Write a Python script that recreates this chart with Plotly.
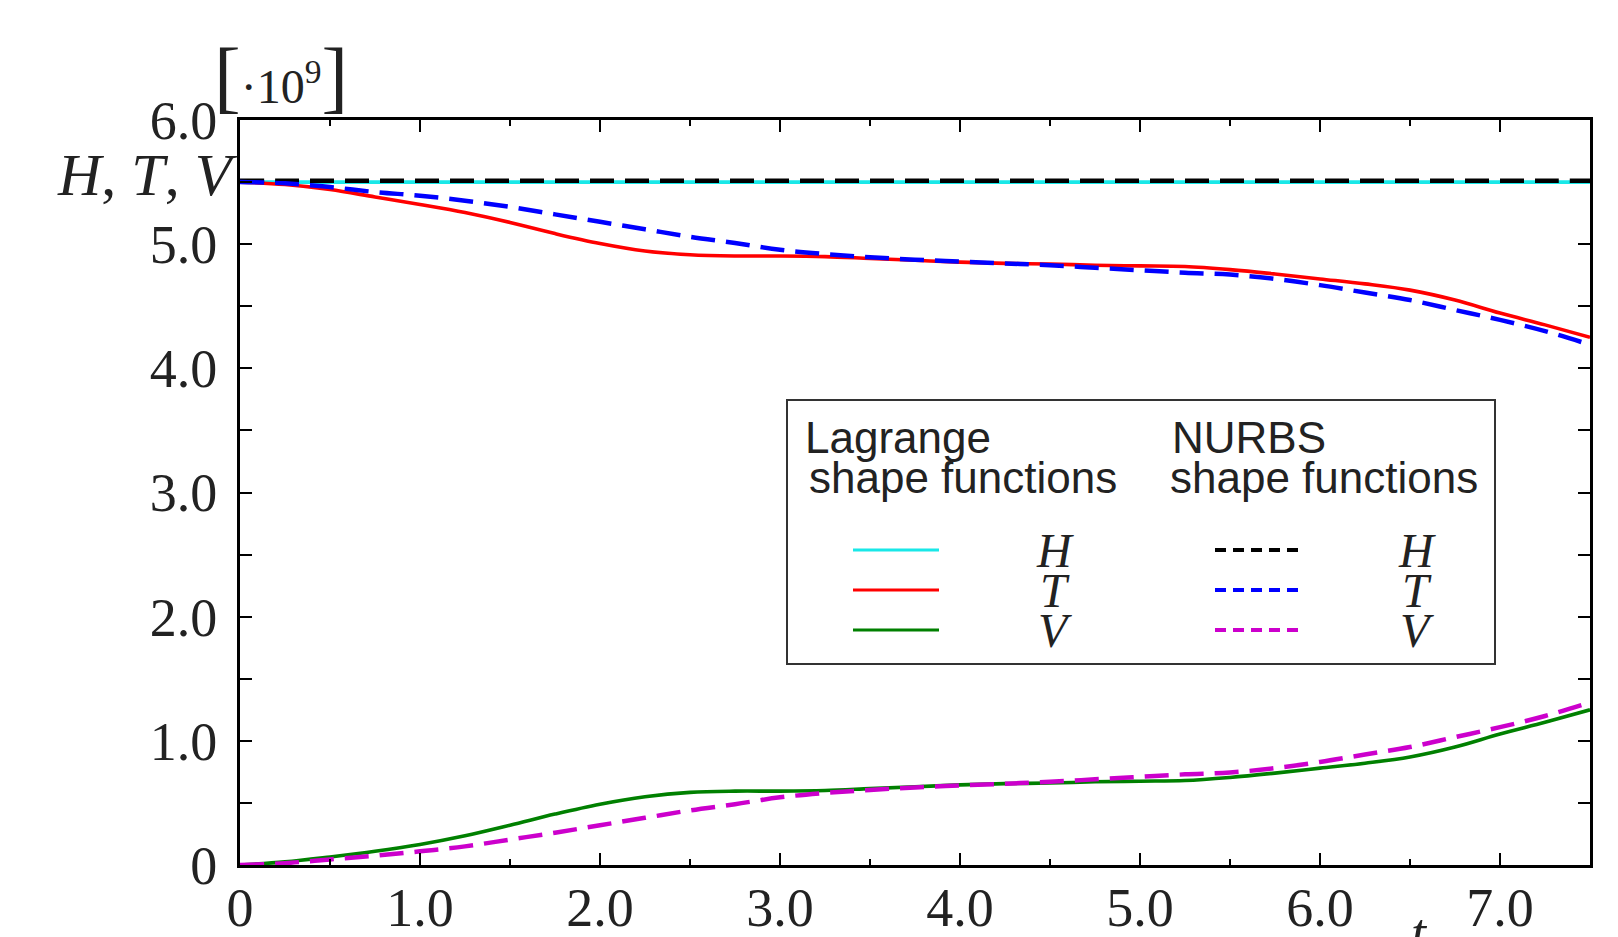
import plotly.graph_objects as go

# ---------------- data ----------------
t = [0.0, 0.25, 0.5, 0.75, 1.0, 1.25, 1.5, 1.75, 2.0, 2.25, 2.5, 2.75, 3.0, 3.25,
     3.5, 3.75, 4.0, 4.25, 4.5, 4.75, 5.0, 5.25, 5.5, 5.75, 6.0, 6.25, 6.5, 6.75,
     7.0, 7.25, 7.5]

H_lagrange = [5.50] * len(t)
T_lagrange = [5.50, 5.48, 5.44, 5.38, 5.32, 5.255, 5.175, 5.085, 5.005, 4.945,
              4.915, 4.905, 4.905, 4.90, 4.885, 4.87, 4.855, 4.845, 4.84, 4.83,
              4.825, 4.82, 4.795, 4.76, 4.72, 4.68, 4.63, 4.55, 4.445, 4.35, 4.25]
V_lagrange = [0.0, 0.025, 0.065, 0.11, 0.165, 0.235, 0.32, 0.41, 0.49, 0.55,
              0.585, 0.595, 0.595, 0.60, 0.615, 0.63, 0.645, 0.655, 0.66, 0.67,
              0.675, 0.68, 0.705, 0.74, 0.78, 0.82, 0.87, 0.95, 1.055, 1.15, 1.25]

H_nurbs = [5.51] * len(t)
T_nurbs = [5.50, 5.49, 5.46, 5.42, 5.39, 5.35, 5.30, 5.24, 5.18, 5.12, 5.06,
           5.01, 4.955, 4.92, 4.895, 4.875, 4.86, 4.845, 4.83, 4.81, 4.79,
           4.77, 4.755, 4.72, 4.67, 4.61, 4.55, 4.47, 4.39, 4.30, 4.19]
V_nurbs = [0.0, 0.015, 0.045, 0.075, 0.11, 0.15, 0.205, 0.26, 0.32, 0.38, 0.44,
           0.49, 0.545, 0.58, 0.605, 0.625, 0.64, 0.655, 0.67, 0.69, 0.71,
           0.73, 0.745, 0.78, 0.83, 0.89, 0.95, 1.03, 1.11, 1.20, 1.31]

x_tickvals = [0, 1, 2, 3, 4, 5, 6, 7]
x_ticktext = ["0", "1.0", "2.0", "3.0", "4.0", "5.0", "6.0", "7.0"]
y_tickvals = [0, 1, 2, 3, 4, 5, 6]
y_ticktext = ["0", "1.0", "2.0", "3.0", "4.0", "5.0", "6.0"]

series_names = ["H", "T", "V"]
lagrange_colors = ["#19e8e8", "#ff0000", "#008000"]
nurbs_colors = ["#000000", "#0000ff", "#cc00cc"]

# ---------------- figure ----------------
W, Hh = 1618, 937
OFF = 8  # page body margin offset
# desired on-screen plot box: x 240..1590, y 120..865
ML = 240 - OFF
MT = 120 - OFF
MR = W - (1590 - OFF)
MB = Hh - (865 - OFF)
PW, PH = W - ML - MR, Hh - MT - MB


def px(x):
    return (x - OFF - ML) / PW


def py(y):
    return (Hh - MB - (y - OFF)) / PH


fig = go.Figure()
lag = [H_lagrange, T_lagrange, V_lagrange]
nur = [H_nurbs, T_nurbs, V_nurbs]
for name, ys, c in zip(series_names, lag, lagrange_colors):
    fig.add_trace(go.Scatter(x=t, y=ys, mode="lines", name="Lagrange " + name,
                             line=dict(color=c, width=3.6, shape="spline"),
                             showlegend=False))
for name, ys, c in zip(series_names, nur, nurbs_colors):
    fig.add_trace(go.Scatter(x=t, y=ys, mode="lines", name="NURBS " + name,
                             line=dict(color=c, width=4.5, dash="24px,11px",
                                       shape="spline"),
                             showlegend=False))

serif = "Liberation Serif"
sans = "Liberation Sans"
tick_font = dict(family=serif, size=54, color="#222")

fig.update_xaxes(range=[0, 7.5], tickmode="array", tickvals=x_tickvals,
                 ticktext=x_ticktext, ticks="inside", ticklen=12, tickwidth=2,
                 tickcolor="black", showline=True, linewidth=3, linecolor="black",
                 mirror="ticks", showgrid=False, zeroline=False, automargin=False,
                 tickfont=tick_font, ticklabelstandoff=-7,
                 minor=dict(tickmode="linear", tick0=0, dtick=0.5, ticks="inside",
                            ticklen=6, tickwidth=2, tickcolor="black",
                            showgrid=False))
fig.update_yaxes(range=[0, 6], tickmode="array", tickvals=y_tickvals,
                 ticktext=y_ticktext, ticks="inside", ticklen=12, tickwidth=2,
                 tickcolor="black", showline=True, linewidth=3, linecolor="black",
                 mirror="ticks", showgrid=False, zeroline=False, automargin=False,
                 tickfont=tick_font, ticklabelstandoff=9,
                 minor=dict(tickmode="linear", tick0=0, dtick=0.5, ticks="inside",
                            ticklen=12, tickwidth=2, tickcolor="black",
                            showgrid=False))

annotations = []
# axis titles
annotations.append(dict(x=px(240), y=py(175), xref="paper", yref="paper",
                        text="<i>H</i>, <i>T</i>, <i>V</i>", showarrow=False,
                        xanchor="right", yanchor="middle",
                        font=dict(family=serif, size=60, color="#222")))
annotations.append(dict(x=px(281), y=py(76), xref="paper", yref="paper",
                        text="<span style='font-size:80px'>[</span>·10<sup>9</sup>"
                             "<span style='font-size:80px'>]</span>",
                        showarrow=False, xanchor="center", yanchor="middle",
                        font=dict(family=serif, size=48, color="#222")))
annotations.append(dict(x=px(1419), y=py(933), xref="paper", yref="paper",
                        text="<i>t</i>", showarrow=False, xanchor="center",
                        yanchor="middle",
                        font=dict(family=serif, size=54, color="#222")))

# legend box
shapes = [dict(type="rect", xref="paper", yref="paper", x0=px(787), x1=px(1495),
               y0=py(664), y1=py(400), line=dict(color="#333", width=2),
               fillcolor="white", layer="above")]
leg_font = dict(family=sans, size=44, color="#222")
annotations.append(dict(x=px(803), y=py(437), xref="paper", yref="paper",
                        text="Lagrange", showarrow=False, xanchor="left",
                        yanchor="middle", font=leg_font))
annotations.append(dict(x=px(807), y=py(477), xref="paper", yref="paper",
                        text="shape functions", showarrow=False, xanchor="left",
                        yanchor="middle", font=leg_font))
annotations.append(dict(x=px(1170), y=py(437), xref="paper", yref="paper",
                        text="NURBS", showarrow=False, xanchor="left",
                        yanchor="middle", font=leg_font))
annotations.append(dict(x=px(1168), y=py(477), xref="paper", yref="paper",
                        text="shape functions", showarrow=False, xanchor="left",
                        yanchor="middle", font=leg_font))

row_y = [550, 590, 630]
for i, name in enumerate(series_names):
    shapes.append(dict(type="line", xref="paper", yref="paper", x0=px(853),
                       x1=px(939), y0=py(row_y[i]), y1=py(row_y[i]),
                       line=dict(color=lagrange_colors[i], width=3), layer="above"))
    shapes.append(dict(type="line", xref="paper", yref="paper", x0=px(1215),
                       x1=px(1300), y0=py(row_y[i]), y1=py(row_y[i]),
                       line=dict(color=nurbs_colors[i], width=4, dash="11px,7px"),
                       layer="above"))
    for xc in (1055, 1417):
        annotations.append(dict(x=px(xc), y=py(row_y[i]), xref="paper",
                                yref="paper", text="<i>" + name + "</i>",
                                showarrow=False, xanchor="center",
                                yanchor="middle",
                                font=dict(family=serif, size=48, color="#222")))

fig.update_layout(width=W, height=Hh, margin=dict(l=ML, r=MR, t=MT, b=MB),
                  plot_bgcolor="white", paper_bgcolor="white",
                  showlegend=False, annotations=annotations, shapes=shapes)

fig.write_html("out.html")
